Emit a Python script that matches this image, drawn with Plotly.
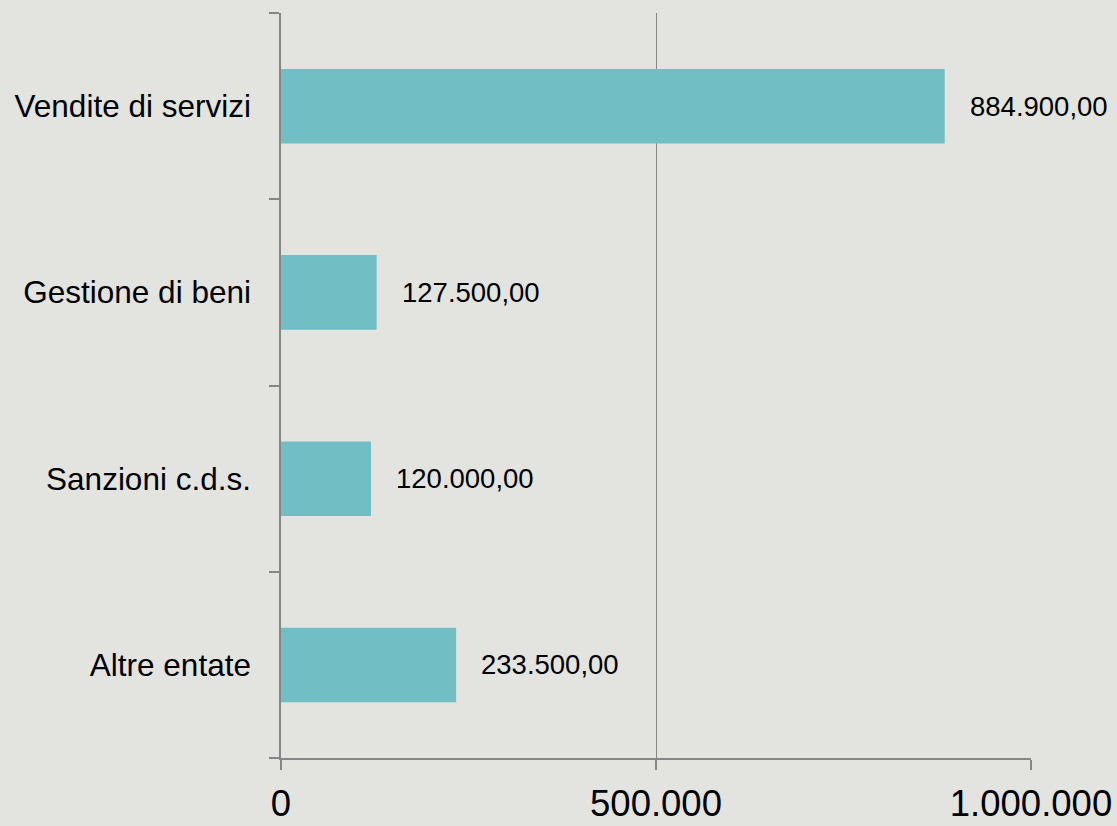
import plotly.graph_objects as go

categories = ["Vendite di servizi", "Gestione di beni", "Sanzioni c.d.s.", "Altre entate"]
values = [884900, 127500, 120000, 233500]
x_ticks = [0, 500000, 1000000]
x_tick_labels = ["0", "500.000", "1.000.000"]

BG = "#e3e3e0"
BAR = "#71bec4"
AXIS = "#868686"
FONT = "Liberation Sans, Arial, sans-serif"


def it_fmt(v):
    s = f"{v:,.2f}"
    return s.replace(",", "X").replace(".", ",").replace("X", ".")


fig = go.Figure()
fig.add_trace(go.Bar(
    x=values,
    y=categories,
    orientation="h",
    width=0.4,
    marker=dict(color=BAR, line=dict(width=0)),
    hoverinfo="x+y",
))

for c, v in zip(categories, values):
    fig.add_annotation(
        x=v, y=c, xref="x", yref="y",
        text=it_fmt(v), showarrow=False,
        xanchor="left", yanchor="middle", xshift=23,
        font=dict(family=FONT, size=27.5, color="#000000"),
    )

fig.update_layout(
    width=1117, height=826,
    paper_bgcolor=BG, plot_bgcolor=BG,
    margin=dict(l=281, r=86, t=13, b=68, autoexpand=False),
    showlegend=False,
    bargap=0.6,
    font=dict(family=FONT, color="#000000"),
)

fig.update_xaxes(
    range=[0, 1000000],
    tickvals=x_ticks, ticktext=x_tick_labels,
    showgrid=True, gridcolor=AXIS, gridwidth=1,
    showline=True, linecolor=AXIS, linewidth=1.5,
    ticks="outside", ticklen=10, tickcolor=AXIS, tickwidth=1.5,
    tickfont=dict(family=FONT, size=36.5, color="#000000"),
    ticklabelstandoff=2,
    zeroline=False,
    automargin=False,
)

fig.update_yaxes(
    categoryorder="array", categoryarray=categories[::-1],
    tickson="boundaries",
    showgrid=False,
    showline=True, linecolor=AXIS, linewidth=1.5,
    ticks="outside", ticklen=10, tickcolor=AXIS, tickwidth=1.5,
    tickfont=dict(family=FONT, size=31.5, color="#000000"),
    ticklabelstandoff=22,
    zeroline=False,
    automargin=False,
)

fig.write_html(
    "out.html",
    config={"displayModeBar": False},
    post_script="document.body.style.margin='0';document.body.style.background='" + BG + "';document.body.style.overflow='hidden';",
)
